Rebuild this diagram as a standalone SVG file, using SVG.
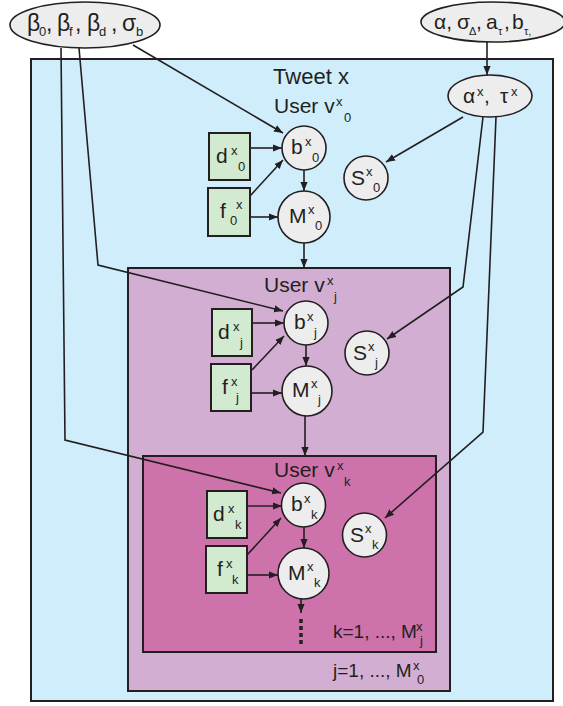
<svg xmlns="http://www.w3.org/2000/svg" width="563" height="706" viewBox="0 0 563 706">
<defs>
<style>
.t{font-family:"Liberation Sans",Arial,sans-serif;fill:#231f20}
.m{font-size:21px}
.s{font-size:13px}
.lbl{font-size:21px}
.pl{font-size:19px}
.node{fill:#ededed;stroke:#231f20;stroke-width:1.6}
.obs{fill:#d2eacf;stroke:#231f20;stroke-width:2}
.plate{stroke:#231f20;stroke-width:2}
.c{fill:none;stroke:#231f20;stroke-width:1.6}
</style>
<marker id="ah" viewBox="0 0 10 10" refX="10" refY="5" markerWidth="9" markerHeight="9" markerUnits="userSpaceOnUse" orient="auto"><path d="M0,1 L10,5 L0,9 z" fill="#231f20"/></marker>
</defs>
<rect width="563" height="706" fill="#ffffff"/>
<g id="plate-tweet"><rect class="plate" x="31" y="59" width="522" height="642" fill="#cfedfb"/>
<text class="t" x="311" y="84" text-anchor="middle" font-size="22">Tweet x</text></g>
<g id="plate-j"><rect class="plate" x="128" y="268" width="322" height="423" fill="#d3aed3"/>
<text class="t pl" x="333" y="677">j=1, ..., M</text><text class="t s" x="413" y="670">x</text><text class="t s" x="417" y="684">0</text></g>
<g id="plate-k"><rect class="plate" x="143" y="456" width="293" height="196" fill="#ce72ab"/>
<text class="t pl" x="333" y="638">k=1, ..., M</text><text class="t s" x="416" y="631">x</text><text class="t s" x="420" y="645">j</text></g>

<g id="hyper-left"><ellipse class="node" cx="85" cy="25" rx="75" ry="23"/>
<text class="t" font-size="23" y="31"><tspan x="27">β</tspan><tspan x="46">,</tspan><tspan x="57">β</tspan><tspan x="75">,</tspan><tspan x="87">β</tspan><tspan x="111">,</tspan><tspan x="122">σ</tspan></text>
<text class="t s" y="36"><tspan x="39">0</tspan><tspan x="69">f</tspan><tspan x="99">d</tspan><tspan x="136">b</tspan></text></g>

<g id="hyper-right"><ellipse class="node" cx="493" cy="22" rx="72" ry="20"/>
<text class="t" font-size="21" y="29"><tspan x="434">α,</tspan><tspan x="457">σ</tspan><tspan x="476">,</tspan><tspan x="486">a</tspan><tspan x="504">,</tspan><tspan x="512">b</tspan></text>
<text class="t" font-size="11" y="35"><tspan x="469">Δ</tspan><tspan x="498">τ</tspan><tspan x="524">τ,</tspan></text></g>

<g id="alpha-tau"><ellipse class="node" cx="490" cy="96" rx="42" ry="21"/>
<text class="t" font-size="21" y="103"><tspan x="463">α</tspan><tspan x="484">,</tspan><tspan x="500">τ</tspan></text>
<text class="t s" y="96"><tspan x="477">x</tspan><tspan x="511">x</tspan></text></g>

<g id="user0-label"><text class="t lbl" x="274" y="113">User v</text><text class="t s" x="336" y="106">x</text><text class="t s" x="344" y="122">0</text></g>
<g id="d0"><rect class="obs" x="209" y="133" width="41" height="47"/><text class="t m" x="216" y="163">d</text><text class="t s" x="231" y="155">x</text><text class="t s" x="238" y="171">0</text></g>
<g id="f0"><rect class="obs" x="208" y="188" width="42" height="48"/><text class="t m" x="220" y="218">f</text><text class="t s" x="230" y="225">0</text><text class="t s" x="236" y="209">x</text></g>
<g id="b0"><circle class="node" cx="304" cy="148" r="22"/><text class="t m" x="291" y="154">b</text><text class="t s" x="305" y="146">x</text><text class="t s" x="312" y="162">0</text></g>
<g id="M0"><circle class="node" cx="304" cy="217" r="26"/><text class="t m" x="289" y="223">M</text><text class="t s" x="308" y="214">x</text><text class="t s" x="315" y="230">0</text></g>
<g id="S0"><circle class="node" cx="366" cy="178" r="22"/><text class="t m" x="351" y="185">S</text><text class="t s" x="366" y="176">x</text><text class="t s" x="373" y="192">0</text></g>

<g id="userj-label"><text class="t lbl" x="264" y="292">User v</text><text class="t s" x="327" y="285">x</text><text class="t s" x="334" y="301">j</text></g>
<g id="dj"><rect class="obs" x="212" y="309" width="40" height="47"/><text class="t m" x="218" y="339">d</text><text class="t s" x="233" y="331">x</text><text class="t s" x="240" y="347">j</text></g>
<g id="fj"><rect class="obs" x="211" y="364" width="40" height="47"/><text class="t m" x="222" y="394">f</text><text class="t s" x="231" y="386">x</text><text class="t s" x="236" y="402">j</text></g>
<g id="bj"><circle class="node" cx="306" cy="323" r="22"/><text class="t m" x="294" y="329">b</text><text class="t s" x="307" y="321">x</text><text class="t s" x="314" y="337">j</text></g>
<g id="Mj"><circle class="node" cx="307" cy="391" r="25"/><text class="t m" x="292" y="397">M</text><text class="t s" x="311" y="388">x</text><text class="t s" x="318" y="404">j</text></g>
<g id="Sj"><circle class="node" cx="367" cy="353" r="22"/><text class="t m" x="353" y="360">S</text><text class="t s" x="368" y="351">x</text><text class="t s" x="375" y="367">j</text></g>

<g id="userk-label"><text class="t lbl" x="274" y="477">User v</text><text class="t s" x="337" y="470">x</text><text class="t s" x="344" y="486">k</text></g>
<g id="dk"><rect class="obs" x="207" y="491" width="40" height="47"/><text class="t m" x="213" y="521">d</text><text class="t s" x="228" y="513">x</text><text class="t s" x="235" y="529">k</text></g>
<g id="fk"><rect class="obs" x="206" y="546" width="41" height="47"/><text class="t m" x="217" y="576">f</text><text class="t s" x="226" y="568">x</text><text class="t s" x="232" y="584">k</text></g>
<g id="bk"><circle class="node" cx="303.5" cy="505" r="22"/><text class="t m" x="291" y="511">b</text><text class="t s" x="304" y="503">x</text><text class="t s" x="311" y="519">k</text></g>
<g id="Mk"><circle class="node" cx="303.5" cy="573.5" r="25.5"/><text class="t m" x="288" y="580">M</text><text class="t s" x="307" y="571">x</text><text class="t s" x="314" y="587">k</text></g>
<g id="Sk"><circle class="node" cx="364.5" cy="535" r="22"/><text class="t m" x="350" y="542">S</text><text class="t s" x="365" y="533">x</text><text class="t s" x="372" y="549">k</text></g>

<g id="connectors">
<line class="c" x1="487" y1="42" x2="487" y2="75" marker-end="url(#ah)"/>
<line class="c" x1="133" y1="45" x2="283" y2="133" marker-end="url(#ah)"/>
<polyline class="c" points="79,48 98,265 283,311" marker-end="url(#ah)"/>
<polyline class="c" points="61,48 65,440 281,493" marker-end="url(#ah)"/>
<line class="c" x1="463" y1="117" x2="386" y2="162" marker-end="url(#ah)"/>
<polyline class="c" points="483,117 463,287 387,339" marker-end="url(#ah)"/>
<polyline class="c" points="496,117 483,432 385,518" marker-end="url(#ah)"/>
<line class="c" x1="250" y1="148" x2="282" y2="148" marker-end="url(#ah)"/>
<line class="c" x1="250" y1="196" x2="283" y2="160" marker-end="url(#ah)"/>
<line class="c" x1="250" y1="217" x2="278" y2="217" marker-end="url(#ah)"/>
<line class="c" x1="304" y1="170" x2="304" y2="191" marker-end="url(#ah)"/>
<line class="c" x1="304" y1="243" x2="304" y2="268" marker-end="url(#ah)"/>
<line class="c" x1="252" y1="323" x2="284" y2="323" marker-end="url(#ah)"/>
<line class="c" x1="252" y1="370" x2="284" y2="336" marker-end="url(#ah)"/>
<line class="c" x1="251" y1="393" x2="282" y2="393" marker-end="url(#ah)"/>
<line class="c" x1="306" y1="345" x2="306" y2="366" marker-end="url(#ah)"/>
<line class="c" x1="305" y1="416" x2="305" y2="456" marker-end="url(#ah)"/>
<line class="c" x1="247" y1="506" x2="282" y2="506" marker-end="url(#ah)"/>
<line class="c" x1="247" y1="555" x2="281" y2="518" marker-end="url(#ah)"/>
<line class="c" x1="247" y1="575" x2="278" y2="575" marker-end="url(#ah)"/>
<line class="c" x1="304" y1="527" x2="304" y2="548" marker-end="url(#ah)"/>
<line class="c" x1="301" y1="599" x2="301" y2="613" marker-end="url(#ah)"/>
<line x1="301" y1="619" x2="301" y2="644" stroke="#231f20" stroke-width="3.5" stroke-dasharray="4 3"/>
</g>
</svg>
